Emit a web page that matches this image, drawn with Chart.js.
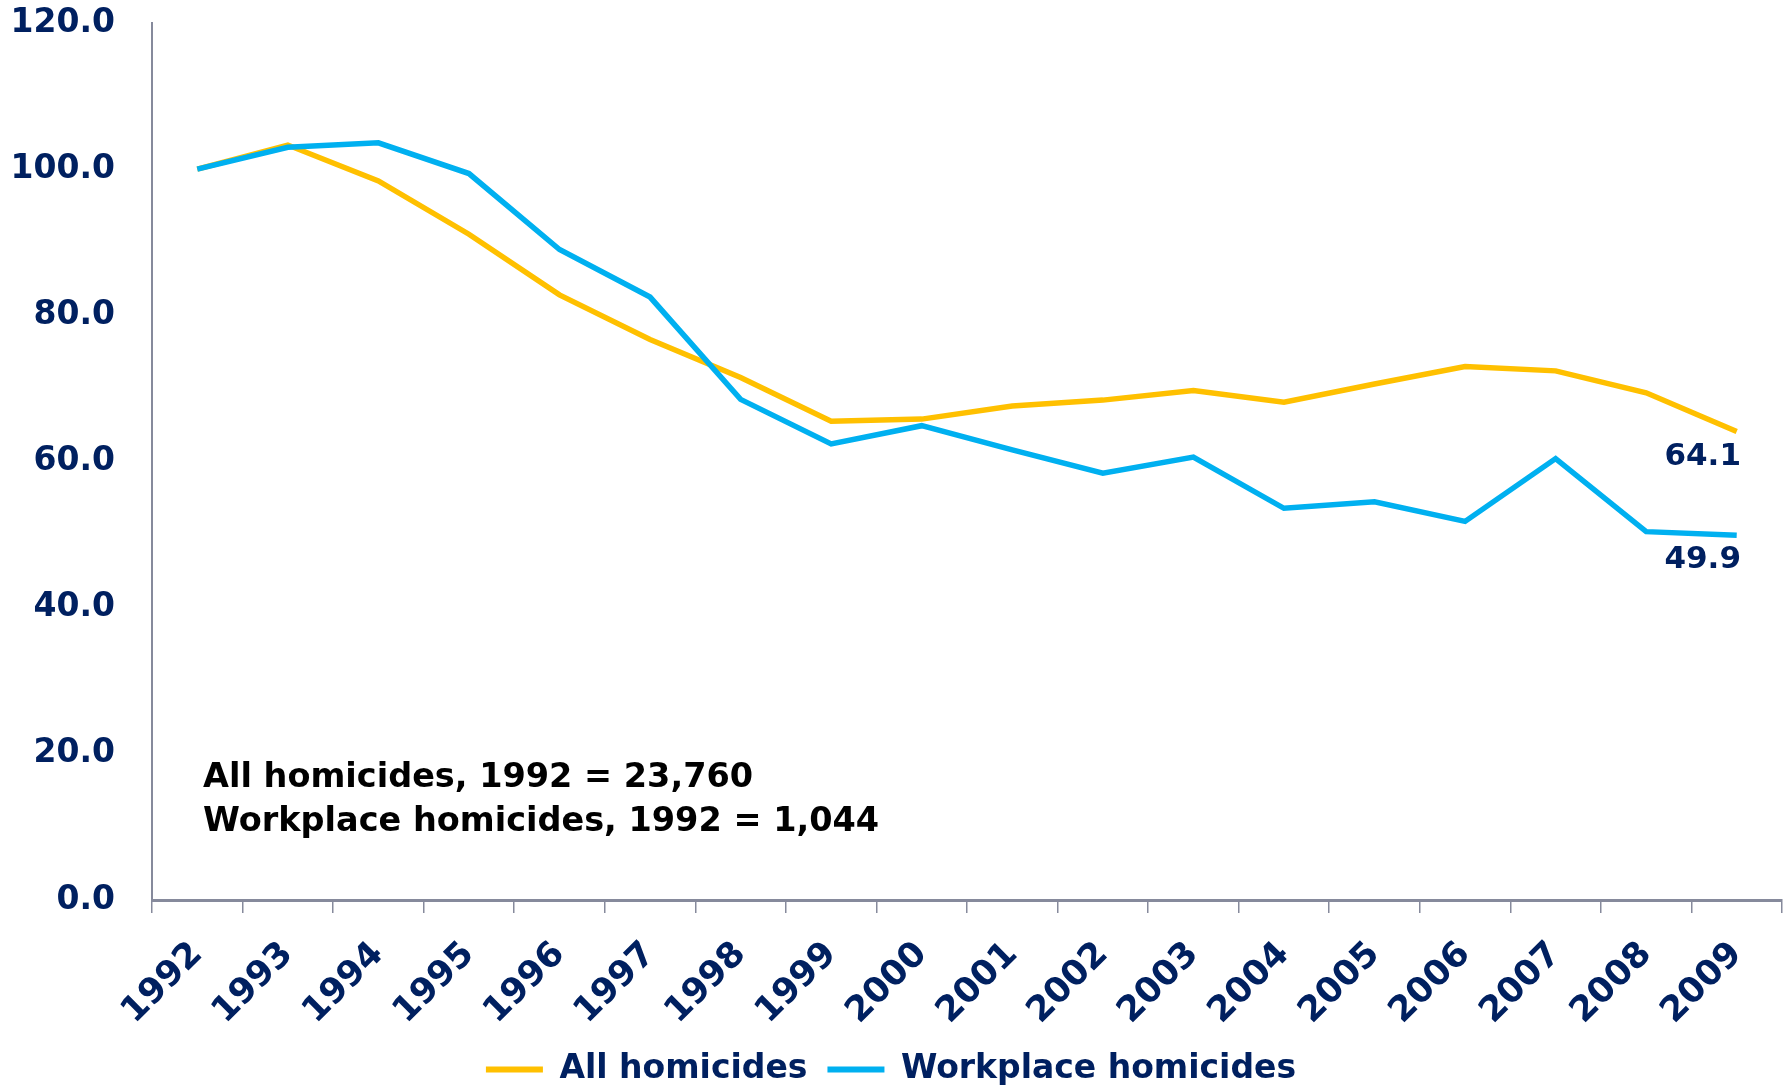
<!DOCTYPE html>
<html lang="en">
<head>
  <meta charset="UTF-8" />
  <title>Homicides index, 1992 = 100</title>
  <script src="https://cdn.jsdelivr.net/npm/chart.js"></script>
  <style>
    html, body { margin: 0; padding: 0; background: #fff; }
    canvas { display: block; }
  </style>
</head>
<body>
  <canvas id="lineChart" width="1791" height="1086"></canvas>

  <script>
    const years = ['1992','1993','1994','1995','1996','1997','1998','1999','2000',
                   '2001','2002','2003','2004','2005','2006','2007','2008','2009'];
    const allHomicides = [100, 103.3, 98.4, 91.1, 82.8, 76.7, 71.5, 65.5, 65.8,
                          67.6, 68.4, 69.7, 68.1, 70.6, 73.0, 72.4, 69.4, 64.1];
    const workplaceHomicides = [100, 103.0, 103.6, 99.4, 89.0, 82.5, 68.5, 62.4, 64.9,
                                61.6, 58.4, 60.6, 53.6, 54.5, 51.8, 60.4, 50.4, 49.9];
    const seriesNames = ['All homicides', 'Workplace homicides'];
    const seriesColors = ['#FFC000', '#00B0F0'];
    const notes = ['All homicides, 1992 = 23,760', 'Workplace homicides, 1992 = 1,044'];

    const navy = '#002060';
    const axisGray = '#868A9C';
    const font = '"DejaVu Sans", Verdana, sans-serif';

    // end-of-line value labels + the note in the lower left
    const extrasPlugin = {
      id: 'extras',
      afterDatasetsDraw(chart) {
        const ctx = chart.ctx;
        const area = chart.chartArea;
        ctx.save();
        ctx.textBaseline = 'middle';
        ctx.font = 'bold 31px ' + font;

        ctx.textAlign = 'center';
        ctx.fillStyle = navy;
        chart.data.datasets.forEach((ds, i) => {
          const pts = chart.getDatasetMeta(i).data;
          const last = pts[pts.length - 1];
          const val = ds.data[ds.data.length - 1];
          ctx.fillText(val.toFixed(1), last.x - 34, last.y + 25);
        });

        ctx.font = 'bold 33.5px ' + font;
        ctx.textAlign = 'left';
        ctx.fillStyle = '#000';
        notes.forEach((t, i) => {
          ctx.fillText(t, area.left + 51, area.bottom - 122 + i * 44);
        });
        ctx.restore();
      }
    };

    const ctx = document.getElementById('lineChart').getContext('2d');
    new Chart(ctx, {
      type: 'line',
      data: {
        labels: years,
        datasets: [
          {
            label: seriesNames[0],
            data: allHomicides,
            borderColor: seriesColors[0],
            backgroundColor: seriesColors[0],
            borderWidth: 5.5,
            pointRadius: 0,
            tension: 0,
            order: 1
          },
          {
            label: seriesNames[1],
            data: workplaceHomicides,
            borderColor: seriesColors[1],
            backgroundColor: seriesColors[1],
            borderWidth: 5.5,
            pointRadius: 0,
            tension: 0,
            order: 0
          }
        ]
      },
      options: {
        responsive: false,
        animation: false,
        layout: { padding: { top: 0, right: 9, left: 0, bottom: -10 } },
        plugins: {
          tooltip: { enabled: false },
          legend: {
            position: 'bottom',
            labels: {
              color: navy,
              font: { family: font, size: 33, weight: 'bold' },
              boxWidth: 57,
              boxHeight: 6,
              padding: 20,
              generateLabels: () => seriesNames.map((name, i) => ({
                text: name,
                fillStyle: seriesColors[i],
                strokeStyle: seriesColors[i],
                lineWidth: 0,
                fontColor: navy,
                datasetIndex: i
              }))
            }
          }
        },
        scales: {
          x: {
            offset: true,
            afterFit: (scale) => {
              scale.height = 133;
              scale.paddingLeft = 0;
              scale.paddingRight = 0;
            },
            border: { display: true, color: axisGray, width: 3 },
            grid: {
              display: true,
              offset: true,
              drawOnChartArea: false,
              drawTicks: true,
              tickLength: 13,
              color: axisGray,
              lineWidth: 1.5
            },
            ticks: {
              color: navy,
              font: { family: font, size: 35, weight: 'bold' },
              minRotation: 45,
              maxRotation: 45,
              padding: 21,
              autoSkip: false
            }
          },
          y: {
            min: 0,
            max: 120,
            afterFit: (scale) => {
              scale.width = 152;
              scale.paddingTop = 23;
              scale.paddingBottom = 0;
            },
            border: { display: true, color: axisGray, width: 2 },
            grid: { display: false, drawTicks: false },
            ticks: {
              stepSize: 20,
              color: navy,
              padding: 37,
              font: { family: font, size: 33, weight: 'bold' },
              callback: (v) => v.toFixed(1)
            }
          }
        }
      },
      plugins: [extrasPlugin]
    });
  </script>
</body>
</html>
